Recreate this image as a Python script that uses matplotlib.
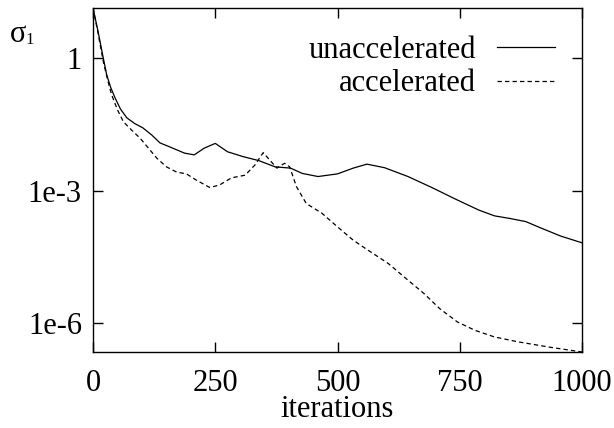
import numpy as np
import matplotlib
matplotlib.use("Agg")
import matplotlib.pyplot as plt

plt.rcParams['font.family'] = ['Liberation Serif', 'DejaVu Serif']

# unaccelerated run: iteration, log10(sigma_1)
unacc_it = [0, 10, 21, 28, 36, 45, 56, 69, 85, 102, 120, 137, 157, 187, 207, 227, 250, 275,
            307, 339, 372, 404, 428, 460, 500, 532, 560, 596, 644, 693, 741, 789, 821, 853,
            885, 917, 957, 1000]
unacc_log = [1.13, 0.62, 0.0, -0.38, -0.66, -0.90, -1.15, -1.35, -1.48, -1.58, -1.74,
             -1.92, -2.01, -2.15, -2.19, -2.04, -1.93, -2.12, -2.23, -2.32, -2.46, -2.49,
             -2.61, -2.68, -2.62, -2.49, -2.40, -2.48, -2.68, -2.93, -3.19, -3.44, -3.57,
             -3.63, -3.70, -3.85, -4.03, -4.18]

# accelerated run
acc_it = [0, 10, 21, 30, 38, 50, 62, 78, 96, 112, 130, 150, 171, 191, 211, 239, 259, 283,
          311, 331, 348, 364, 376, 384, 392, 402, 416, 436, 468, 500, 532, 560, 604, 636,
          677, 709, 745, 781, 821, 869, 933, 1000]
acc_log = [1.13, 0.58, -0.08, -0.50, -0.83, -1.17, -1.44, -1.62, -1.81, -2.02, -2.26,
           -2.46, -2.58, -2.62, -2.76, -2.93, -2.87, -2.71, -2.65, -2.42, -2.14, -2.34,
           -2.49, -2.43, -2.38, -2.46, -2.91, -3.29, -3.51, -3.82, -4.12, -4.33, -4.65,
           -4.95, -5.33, -5.67, -5.97, -6.16, -6.31, -6.42, -6.54, -6.65]

yticks = [1, 1e-3, 1e-6]
ytick_labels = ["1", "1e-3", "1e-6"]
xticks = [0, 250, 500, 750, 1000]

fig = plt.figure(figsize=(6.14, 4.28), dpi=100)
ax = fig.add_axes([0.1515, 0.1776, 0.7965, 0.8034])

ax.plot(unacc_it, 10 ** np.array(unacc_log), color='black', lw=0.9, label='unaccelerated')
ax.plot(acc_it, 10 ** np.array(acc_log), color='black', lw=0.9, ls=(0, (3.5, 2.5)),
        label='accelerated')

ax.set_yscale('log')
ax.set_xlim(0, 1000)
ax.set_ylim(10 ** -6.65, 10 ** 1.13)
ax.set_yticks(yticks)
ax.set_yticklabels(ytick_labels)
ax.minorticks_off()
ax.set_xticks(xticks)
ax.tick_params(direction='in', length=7, width=1, labelsize=22, top=True, right=True, pad=8)
ax.tick_params(axis='x', pad=12)
for s in ax.spines.values():
    s.set_linewidth(1)

ax.set_xlabel('iterations', fontsize=22, labelpad=-2)

ax.legend(loc='upper right', frameon=False, markerfirst=False, fontsize=22,
          handlelength=1.9, labelspacing=0.15, borderaxespad=0.5, handletextpad=0.67)

fig.text(10 / 614, 1 - 35 / 428, 'σ', fontsize=22, va='center', ha='left')
fig.text(25 / 614, 1 - 40 / 428, '1', fontsize=12, va='center', ha='left')

fig.savefig('out.png', dpi=100)
